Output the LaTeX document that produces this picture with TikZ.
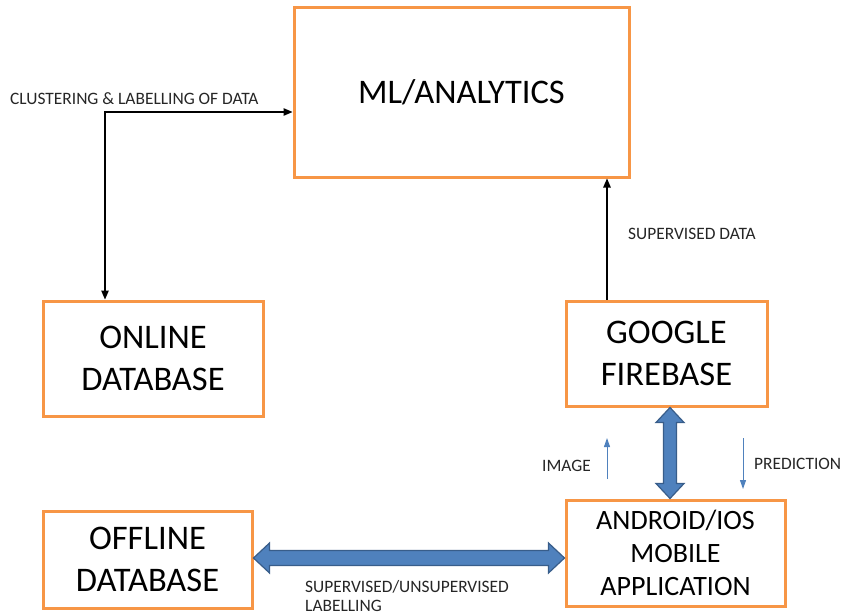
\documentclass[tikz,border=0pt]{standalone}
\usepackage{fontspec}
\setmainfont{Carlito}
\usetikzlibrary{arrows.meta,calc}
\definecolor{boxorange}{HTML}{F79646}
\definecolor{arrowblue}{HTML}{4F81BD}
\definecolor{arrowedge}{HTML}{385D8A}
\begin{document}
\begin{tikzpicture}[x=1pt,y=-1pt,
  block/.style={draw=boxorange,line width=3pt,fill=white,align=center,inner sep=0pt},
  bigtext/.style={font=\fontsize{34.5}{42.5}\selectfont},
  midtext/.style={font=\fontsize{28}{33}\selectfont},
  lbl/.style={font=\fontsize{17.4}{19}\selectfont,inner sep=0pt,anchor=base west,align=left,text=black!85},
  thinarrow/.style={line width=1.1pt,-{Triangle[length=9pt,width=7.5pt]}},
  thinblue/.style={draw=arrowblue,line width=1pt,-{Triangle[length=9pt,width=6pt]}},
  fatarrow/.style={fill=arrowblue,draw=arrowedge,line width=1.2pt,line join=miter}
]
\useasboundingbox[fill=white] (0,0) rectangle (842,615);

\node[block,bigtext,minimum width=335pt,minimum height=169pt] (ml) at (461.5,92.5) {ML/ANALYTICS};
\node[block,bigtext,minimum width=220pt,minimum height=115pt] (online) at (153,358.5) {ONLINE\\DATABASE};
\node[block,bigtext,minimum width=201pt,minimum height=105pt] (fb) at (666.5,353.5) {GOOGLE\\FIREBASE};
\node[block,bigtext,minimum width=209pt,minimum height=97pt] (offline) at (147.5,559.5) {OFFLINE\\DATABASE};
\node[block,midtext,minimum width=219pt,minimum height=106pt] (app) at (675.5,553) {ANDROID/IOS\\MOBILE\\APPLICATION};

% clustering connector
\coordinate (corner) at (105,112);
\draw[thinarrow,{Triangle[length=9pt,width=7.5pt]}-{Triangle[length=9pt,width=7.5pt]}]
  (corner |- online.north) -- (corner) -- (corner -| ml.west);
\node[lbl] (lclust) at (10,105) {CLUSTERING \& LABELLING OF DATA};

% supervised data
\coordinate (sd) at (607,0);
\draw[thinarrow] (sd |- fb.north) -- (sd |- ml.south);
\node[lbl] (lsd) at (628,239) {SUPERVISED DATA};

% fat vertical double arrow
\coordinate (va) at (670,0);
\path[fatarrow] let \p1=(va |- fb.south), \p2=(va |- app.north) in
  (\x1,\y1) -- (\x1+14pt,\y1-15pt) -- (\x1+6.5pt,\y1-15pt) -- (\x1+6.5pt,\y2+15pt)
  -- (\x1+14pt,\y2+15pt) -- (\x1,\y2) -- (\x1-14pt,\y2+15pt) -- (\x1-6.5pt,\y2+15pt)
  -- (\x1-6.5pt,\y1-15pt) -- (\x1-14pt,\y1-15pt) -- cycle;

% fat horizontal double arrow
\coordinate (ha) at (0,558);
\path[fatarrow] let \p1=(ha -| offline.east), \p2=(ha -| app.west) in
  (\x1,\y1) -- (\x1+16pt,\y1+15pt) -- (\x1+16pt,\y1+7.5pt) -- (\x2-16pt,\y1+7.5pt)
  -- (\x2-16pt,\y1+15pt) -- (\x2,\y1) -- (\x2-16pt,\y1-15pt) -- (\x2-16pt,\y1-7.5pt)
  -- (\x1+16pt,\y1-7.5pt) -- (\x1+16pt,\y1-15pt) -- cycle;
\node[lbl] (lsup) at (305,611) {SUPERVISED/UNSUPERVISED\\LABELLING};

% thin blue arrows
\coordinate (imgfrom) at (607,479);
\coordinate (imgto) at (607,438);
\draw[thinblue] (imgfrom) -- (imgto);
\node[lbl] (limg) at (542,471) {IMAGE};
\coordinate (predfrom) at (743,438);
\coordinate (predto) at (743,489);
\draw[thinblue] (predfrom) -- (predto);
\node[lbl] (lpred) at (754,469) {PREDICTION};
\end{tikzpicture}
\end{document}
